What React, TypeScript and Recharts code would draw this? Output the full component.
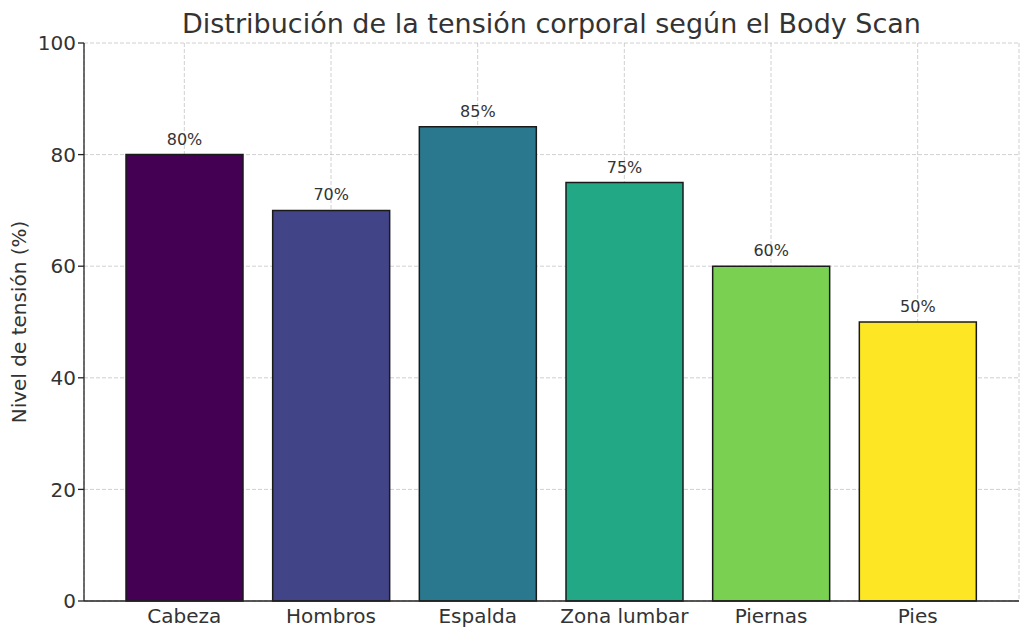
import React from 'react';
import { BarChart, Bar, XAxis, YAxis, CartesianGrid, Cell, LabelList } from 'recharts';

// datos del gráfico
const zonas = ['Cabeza', 'Hombros', 'Espalda', 'Zona lumbar', 'Piernas', 'Pies'];
const tension = [80, 70, 85, 75, 60, 50];
const colores = ['#440154', '#414487', '#2a788e', '#22a884', '#7ad151', '#fde725'];
const yTicks = [0, 20, 40, 60, 80, 100];

const data = zonas.map((zona, i) => ({ zona, valor: tension[i] }));

const FONT = '"DejaVu Sans", sans-serif';
const TEXT = '#333333';

const App: React.FC = () => {
  return (
    <div style={{ position: 'absolute', left: 0, top: 0, width: 1030, height: 639, background: '#fff', fontFamily: FONT }}>
      <div
        style={{
          position: 'absolute',
          left: 84,
          width: 935,
          top: 6,
          textAlign: 'center',
          fontSize: 27,
          lineHeight: '36px',
          color: TEXT,
        }}
      >
        Distribución de la tensión corporal según el Body Scan
      </div>
      <BarChart
        width={1030}
        height={639}
        data={data}
        margin={{ top: 43, right: 11, bottom: 0, left: 0 }}
        barCategoryGap={15}
      >
        <XAxis
          dataKey="zona"
          height={38}
          padding={{ left: 27, right: 28 }}
          tickLine={false}
          axisLine={{ stroke: '#222', strokeWidth: 1.3 }}
          tick={{ fill: TEXT, fontSize: 20, fontFamily: FONT }}
          tickMargin={2}
        />
        <YAxis
          width={84}
          domain={[0, 100]}
          ticks={yTicks}
          interval={0}
          tickSize={6}
          axisLine={{ stroke: '#222', strokeWidth: 1.3 }}
          tickLine={{ stroke: '#222', strokeWidth: 1.3 }}
          tick={{ fill: TEXT, fontSize: 20, fontFamily: FONT }}
          label={{
            value: 'Nivel de tensión (%)',
            angle: -90,
            position: 'insideLeft',
            dx: 14,
            style: { textAnchor: 'middle', fill: TEXT, fontSize: 20, fontFamily: FONT },
          }}
        />
        <Bar dataKey="valor" stroke="#1a1a1a" strokeWidth={1.5} isAnimationActive={false}>
          {data.map((d, i) => (
            <Cell key={d.zona} fill={colores[i]} />
          ))}
          <LabelList
            dataKey="valor"
            position="top"
            offset={10}
            formatter={(v: any) => `${v}%`}
            style={{ fill: TEXT, fontSize: 16, fontFamily: FONT }}
          />
        </Bar>
        <CartesianGrid stroke="#b0b0b0" strokeOpacity={0.6} strokeDasharray="4 2" />
      </BarChart>
    </div>
  );
};

export default App;
